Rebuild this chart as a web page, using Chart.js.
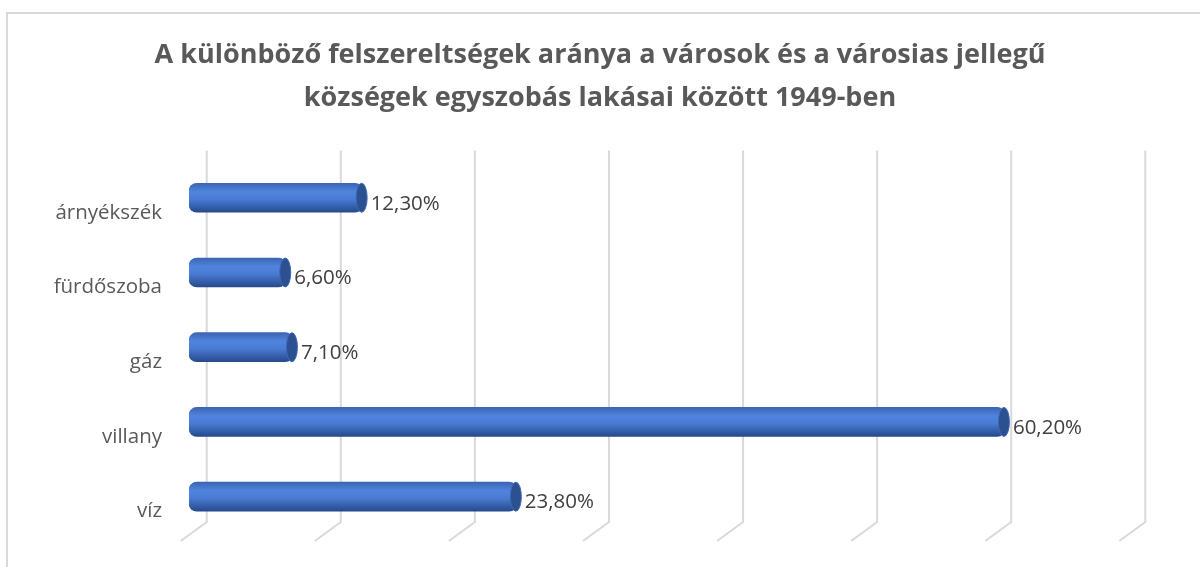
<!DOCTYPE html>
<html lang="hu">
<head>
    <meta charset="UTF-8">
    <title>Felszereltségek aránya 1949</title>
    <script src="https://cdn.jsdelivr.net/npm/chart.js"></script>
    <style>
        body { margin: 0; background: #fff; overflow: hidden; }
        #keret { position: absolute; left: 6px; top: 12px; width: 1210px; height: 570px; border: 2px solid #d9d9d9; }
        #tarto { position: absolute; left: 0; top: 0; width: 1200px; height: 567px; }
    </style>
</head>
<body>
    <div id="keret"></div>
    <div id="tarto">
        <canvas id="grafikon"></canvas>
    </div>

    <script>
        const kategoriak = ['árnyékszék', 'fürdőszoba', 'gáz', 'villany', 'víz'];
        const aranyok = [12.3, 6.6, 7.1, 60.2, 23.8];
        const racsErtekek = [0, 10, 20, 30, 40, 50, 60, 70];
        const cim = ['A különböző felszereltségek aránya a városok és a városias jellegű',
                     'községek egyszobás lakásai között 1949-ben'];

        // henger színátmenet minden oszlopra külön
        function hengerSzin(context) {
            const chart = context.chart;
            if (!chart.chartArea) return '#4472c4';
            const y = chart.scales.y.getPixelForValue(context.dataIndex);
            const g = chart.ctx.createLinearGradient(0, y - 15, 0, y + 15);
            g.addColorStop(0, '#3a63b0');
            g.addColorStop(0.3, '#5084de');
            g.addColorStop(0.55, '#4a7bd3');
            g.addColorStop(1, '#25488a');
            return g;
        }

        // 3D hatású rácsvonalak (hátsó fal + padló)
        const racsPlugin = {
            id: 'racs',
            beforeDatasetsDraw(chart) {
                const ctx = chart.ctx;
                const x = chart.scales.x;
                const area = chart.chartArea;
                ctx.save();
                ctx.strokeStyle = '#d9d9d9';
                ctx.lineWidth = 2;
                racsErtekek.forEach(v => {
                    const px = x.getPixelForValue(v);
                    ctx.beginPath();
                    ctx.moveTo(px + 9, area.top - 10);
                    ctx.lineTo(px + 9, area.bottom - 12);
                    ctx.lineTo(px - 17, area.bottom + 7);
                    ctx.stroke();
                });
                ctx.restore();
            }
        };

        // hengervég és címkék
        const vegPlugin = {
            id: 'hengerveg',
            afterDatasetsDraw(chart) {
                const ctx = chart.ctx;
                const meta = chart.getDatasetMeta(0);
                ctx.save();
                meta.data.forEach((bar, i) => {
                    const h = bar.height / 2;
                    ctx.beginPath();
                    ctx.ellipse(bar.x - 1, bar.y, 5.5, h, 0, 0, Math.PI * 2);
                    ctx.fillStyle = '#2c5191';
                    ctx.fill();
                    ctx.strokeStyle = '#3d68b6';
                    ctx.lineWidth = 1;
                    ctx.stroke();

                    ctx.fillStyle = '#404040';
                    ctx.font = '20.5px "Open Sans"';
                    ctx.textAlign = 'left';
                    ctx.textBaseline = 'middle';
                    ctx.fillText(aranyok[i].toFixed(2).replace('.', ',') + '%', bar.x + 8, bar.y + 6);
                });
                ctx.restore();
            }
        };

        new Chart(document.getElementById('grafikon'), {
            type: 'bar',
            data: {
                labels: kategoriak,
                datasets: [{
                    data: aranyok,
                    base: -0.65,
                    backgroundColor: hengerSzin,
                    borderWidth: 0,
                    borderRadius: 8,
                    borderSkipped: false,
                    barThickness: 29
                }]
            },
            options: {
                indexAxis: 'y',
                responsive: true,
                maintainAspectRatio: false,
                animation: false,
                layout: { padding: { left: 0, right: 0, top: 12, bottom: 33 } },
                scales: {
                    x: {
                        display: false,
                        min: -0.65,
                        max: 74.75
                    },
                    y: {
                        grid: { display: false, drawTicks: false },
                        border: { display: false },
                        ticks: {
                            color: '#595959',
                            font: { family: 'Open Sans', size: 20.5 },
                            padding: 27,
                            labelOffset: 15
                        },
                        afterFit(scale) {
                            scale.width = 189;
                            scale.paddingTop = 0;
                            scale.paddingBottom = 0;
                        }
                    }
                },
                plugins: {
                    legend: { display: false },
                    tooltip: { enabled: false },
                    title: {
                        display: true,
                        text: cim,
                        color: '#595959',
                        font: { family: 'Open Sans', size: 27, weight: 'bold', lineHeight: 1.6 },
                        padding: { top: 22, bottom: 40 }
                    }
                }
            },
            plugins: [racsPlugin, vegPlugin]
        });
    </script>
</body>
</html>
